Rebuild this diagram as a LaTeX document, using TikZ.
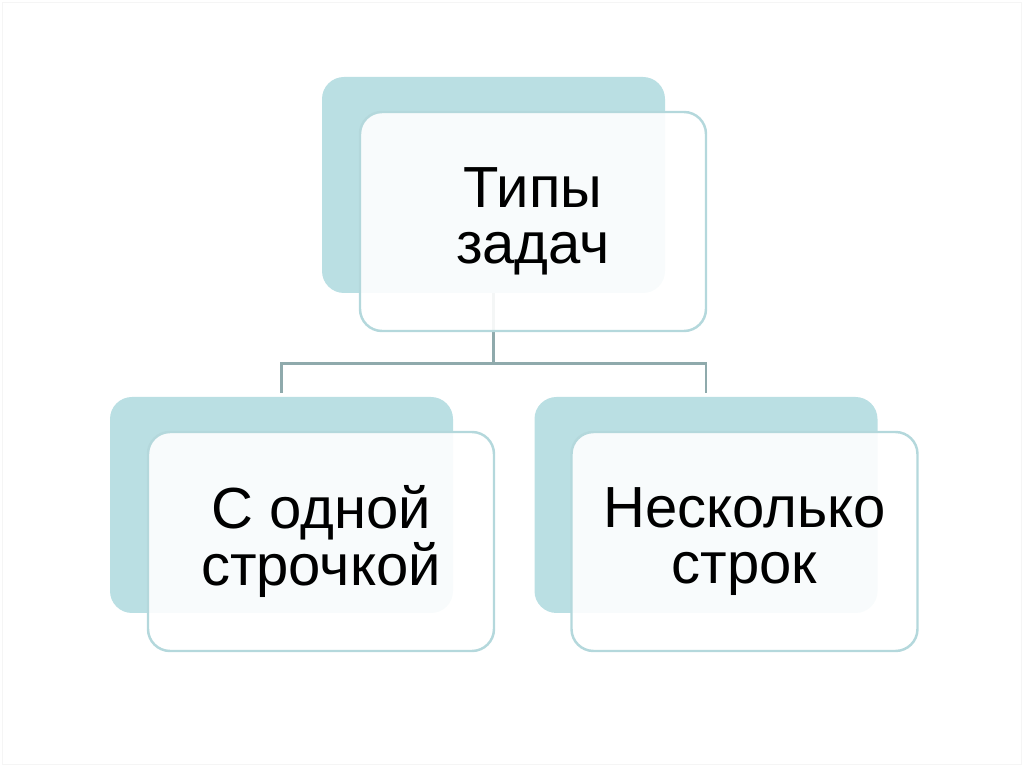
\documentclass[tikz,border=0pt]{standalone}
\usepackage{fontspec}
\setmainfont{Liberation Sans}
\definecolor{backteal}{RGB}{186,223,227}
\definecolor{edgeteal}{RGB}{180,216,220}
\definecolor{linkgray}{RGB}{143,170,172}
\begin{document}
\begin{tikzpicture}[
    backcard/.style={rectangle, rounded corners=0.44cm, fill=backteal,
      minimum width=6.86cm, minimum height=4.32cm, inner sep=0pt},
    frontcard/.style={rectangle, rounded corners=0.44cm, fill=white, fill opacity=0.9,
      text opacity=1, draw=edgeteal, line width=1.4pt,
      minimum width=6.92cm, minimum height=4.38cm, align=center,
      font=\fontsize{33}{32}\selectfont},
    link/.style={draw=linkgray, line width=1.7pt}]
    \useasboundingbox (0,0) rectangle (20.48,-15.34);
    \draw[black!4, line width=0.6pt] (0.05,-0.05) rectangle (20.43,-15.29);
    % back cards
    \node[backcard] (tback) at (9.87,-3.70) {};
    \node[backcard] (lback) at (5.63,-10.10) {};
    \node[backcard] (rback) at (14.12,-10.10) {};
    % connectors
    \coordinate (split) at ([yshift=-1.4cm]tback.south);
    \draw[link] (tback.south) -- (split);
    \draw[link] (split) -| ([yshift=0.08cm]lback.north);
    \draw[link] (split) -| ([yshift=0.08cm]rback.north);
    % front cards
    \node[frontcard] (ttop) at (10.66,-4.43) {Типы\\задач};
    \node[frontcard] (tleft) at (6.42,-10.83) {С одной\\строчкой};
    \node[frontcard] (tright) at (14.89,-10.83) {Несколько\\строк};
\end{tikzpicture}
\end{document}
